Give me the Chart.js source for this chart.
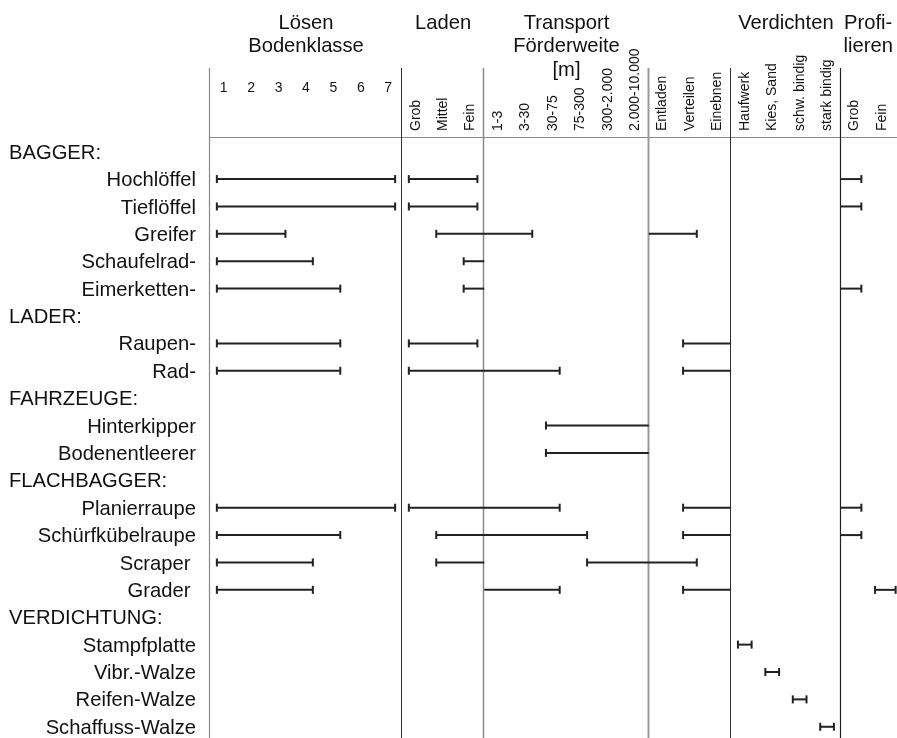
<!DOCTYPE html>
<html><head><meta charset="utf-8">
<script src="https://cdn.jsdelivr.net/npm/chart.js@4/dist/chart.umd.min.js"></script>
<style>html,body{margin:0;padding:0;background:#fff}</style>
</head><body>
<canvas id="c" width="897" height="738"></canvas>
<script>
// ---------- data ----------
const rowLabels = ['BAGGER:','Hochlöffel','Tieflöffel','Greifer','Schaufelrad-','Eimerketten-',
  'LADER:','Raupen-','Rad-','FAHRZEUGE:','Hinterkipper','Bodenentleerer',
  'FLACHBAGGER:','Planierraupe','Schürfkübelraupe','Scraper ','Grader ',
  'VERDICHTUNG:','Stampfplatte','Vibr.-Walze','Reifen-Walze','Schaffuss-Walze'];
const groupRows = [0, 6, 9, 12, 17];

const loesenLabels = ['1','2','3','4','5','6','7'];
const ladenLabels = ['Grob','Mittel','Fein'];
const transportLabels = ['1-3','3-30','30-75','75-300','300-2.000','2.000-10.000'];
const einbauLabels = ['Entladen','Verteilen','Einebnen'];
const verdichtenLabels = ['Haufwerk','Kies, Sand','schw. bindig','stark bindig'];
const profilLabels = ['Grob','Fein'];

const groupTitles = [
  ['Lösen','Bodenklasse'],
  ['Laden'],
  ['Transport','Förderweite','[m]'],
  [],
  ['Verdichten'],
  ['Profi-','lieren']
];

// segments: [row, from, to] in column units (column k spans k..k+1)
const loesenBars = [[1,0.25,6.75],[2,0.25,6.75],[3,0.25,2.75],[4,0.25,3.75],[5,0.25,4.75],
  [7,0.25,4.75],[8,0.25,4.75],[13,0.25,6.75],[14,0.25,4.75],[15,0.25,3.75],[16,0.25,3.75]];
const ladenBars = [[1,7.25,9.75],[2,7.25,9.75],[3,8.25,11.75],[4,9.25,10],[5,9.25,10],
  [7,7.25,9.75],[8,7.25,12.75],[13,7.25,12.75],[14,8.25,13.75],[15,8.25,10]];
const transportBars = [[10,12.25,16],[11,12.25,16],[15,13.75,17.75],[16,10,12.75]];
const einbauBars = [[3,16,17.75],[7,17.25,19],[8,17.25,19],[13,17.25,19],[14,17.25,19],[16,17.25,19]];
const verdichtenBars = [[18,19.25,19.75],[19,20.25,20.75],[20,21.25,21.75],[21,22.25,22.75]];
const profilBars = [[1,23,23.75],[2,23,23.75],[5,23,23.75],[13,23,23.75],[14,23,23.75],[16,24.25,25]];

// ---------- build ----------
const colGroups = [loesenLabels, ladenLabels, transportLabels, einbauLabels, verdichtenLabels, profilLabels];
const groupStarts = [];
let acc = 0;
colGroups.forEach(g => { groupStarts.push(acc); acc += g.length; });
const dividers = groupStarts.slice();

const allBars = [].concat(loesenBars, ladenBars, transportBars, einbauBars, verdichtenBars, profilBars);
const ink = '#222';
const datasets = allBars.map(([row, a, b]) => ({
  data: [{x: a, y: row}, {x: b, y: row}],
  showLine: true,
  borderColor: ink,
  borderWidth: 2,
  pointStyle: 'line',
  rotation: 90,
  pointRadius: ctx => (ctx.raw && dividers.includes(ctx.raw.x)) ? 0 : 4,
  pointBorderWidth: 2,
  pointBorderColor: ink,
  pointHoverRadius: 0,
  clip: false
}));

const FONT = "'Liberation Sans', Arial, sans-serif";
const BIG = 20.2;

const decor = {
  id: 'decor',
  beforeDatasetsDraw(chart) {
    const {ctx, chartArea, scales: {x}} = chart;
    ctx.save();
    // horizontal header rule
    ctx.strokeStyle = '#888';
    ctx.lineWidth = 1.2;
    ctx.beginPath();
    ctx.moveTo(chartArea.left - 1, chartArea.top - 0.5);
    ctx.lineTo(chart.width, chartArea.top - 0.5);
    ctx.stroke();
    // vertical dividers
    const divColors = ['#888', '#333', '#888', '#999', '#333', '#222'];
    const divWidths = [1.2, 1, 1.5, 2, 1, 1.2];
    dividers.forEach((d, i) => {
      const px = Math.round(x.getPixelForValue(d)) - 0.5;
      ctx.strokeStyle = divColors[i];
      ctx.lineWidth = divWidths[i];
      ctx.beginPath();
      ctx.moveTo(px, 68);
      ctx.lineTo(px, chart.height);
      ctx.stroke();
    });
    ctx.restore();
  },
  afterDraw(chart) {
    const {ctx, scales: {x, y}} = chart;
    ctx.save();
    ctx.fillStyle = '#111';
    // group headings in row column
    ctx.font = BIG + 'px ' + FONT;
    ctx.textAlign = 'left';
    ctx.textBaseline = 'middle';
    groupRows.forEach(r => ctx.fillText(rowLabels[r], 9, y.getPixelForValue(r) + 1.5));
    // group titles
    ctx.textAlign = 'center';
    colGroups.forEach((g, gi) => {
      const cx = x.getPixelForValue(groupStarts[gi] + g.length / 2);
      groupTitles[gi].forEach((t, li) => ctx.fillText(t, cx, 23 + li * 23.5));
    });
    // column labels
    ctx.font = '14px ' + FONT;
    colGroups.forEach((g, gi) => {
      g.forEach((lab, k) => {
        const cx = x.getPixelForValue(groupStarts[gi] + k + 0.5);
        if (gi === 0) {
          ctx.textAlign = 'center';
          ctx.textBaseline = 'middle';
          ctx.fillText(lab, cx, 88);
        } else {
          ctx.save();
          ctx.translate(cx, 131);
          ctx.rotate(-Math.PI / 2);
          ctx.textAlign = 'left';
          ctx.textBaseline = 'middle';
          ctx.fillText(lab, 0, 0);
          ctx.restore();
        }
      });
    });
    ctx.restore();
  }
};

new Chart(document.getElementById('c'), {
  type: 'scatter',
  data: { datasets },
  options: {
    responsive: false,
    animation: false,
    events: [],
    layout: { autoPadding: false, padding: { top: 138, left: 0, right: 0, bottom: 0 } },
    plugins: { legend: { display: false }, tooltip: { enabled: false } },
    scales: {
      x: { type: 'linear', min: 0, max: 25.05, display: false },
      y: {
        type: 'linear', reverse: true, min: -0.5, max: 21.41,
        afterFit(scale) { scale.width = 210; scale.paddingTop = 0; scale.paddingBottom = 0; },
        afterBuildTicks(scale) { scale.ticks = rowLabels.map((_, i) => ({ value: i })); },
        ticks: {
          autoSkip: false,
          padding: 14,
          labelOffset: 1.5,
          color: '#111',
          font: { family: FONT, size: BIG },
          callback: v => groupRows.includes(v) ? '' : rowLabels[v]
        },
        grid: { display: false, drawTicks: false },
        border: { display: false }
      }
    }
  },
  plugins: [decor]
});
</script>
</body></html>
